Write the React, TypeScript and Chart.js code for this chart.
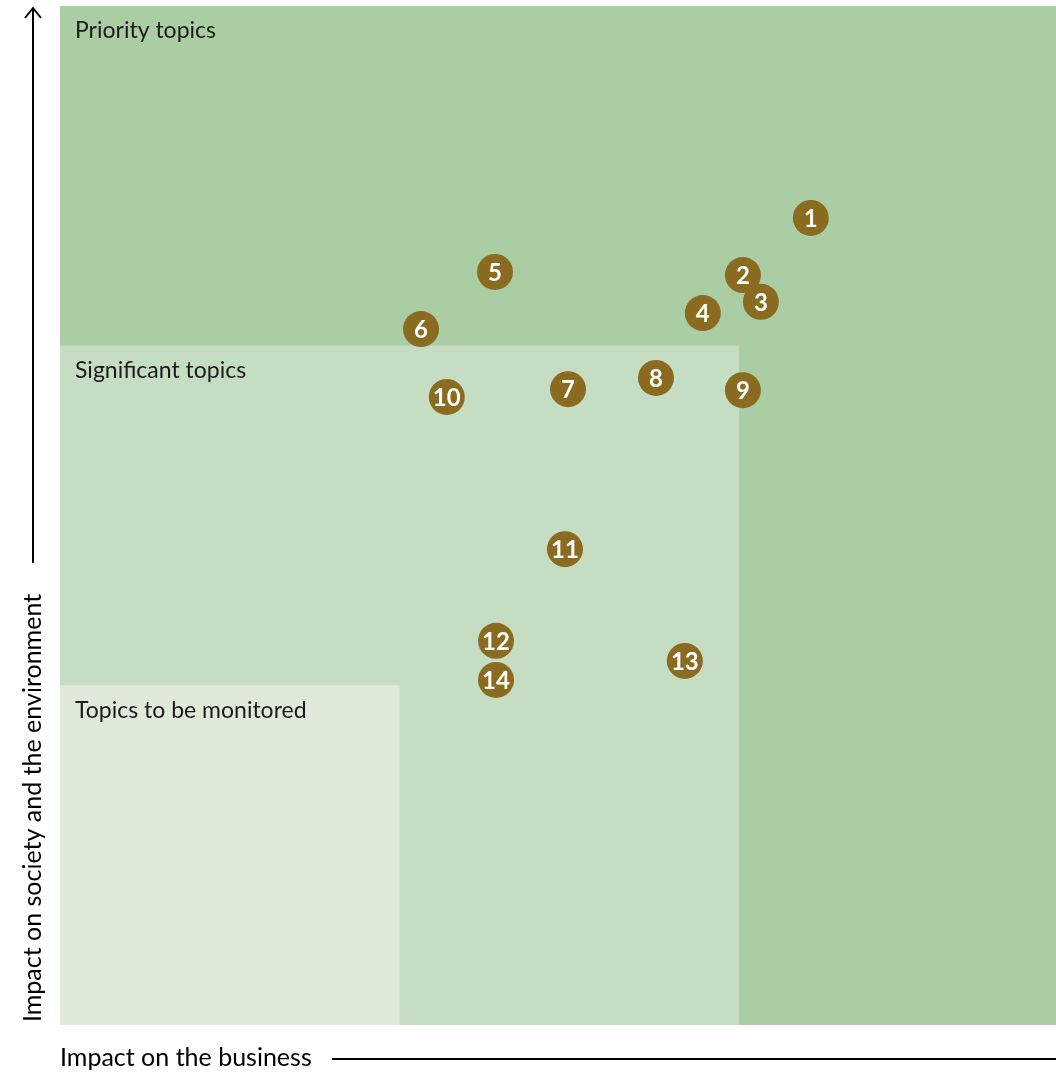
import React, { useEffect, useRef } from "react";
import { Chart, registerables } from "chart.js";

Chart.register(...registerables);

// Topic numbers and positions (units: thirds of the matrix)
const topicIds = ["1", "2", "3", "4", "5", "6", "7", "8", "9", "10", "11", "12", "13", "14"];
const businessImpact = [2.211, 2.011, 2.064, 1.893, 1.281, 1.063, 1.496, 1.755, 2.011, 1.139, 1.487, 1.284, 1.84, 1.284];
const societyImpact = [2.376, 2.208, 2.129, 2.096, 2.217, 2.049, 1.872, 1.905, 1.869, 1.849, 1.401, 1.131, 1.072, 1.016];

// Zones: [xMax, yMax, label]
const zoneLabels = ["Priority topics", "Significant topics", "Topics to be monitored"];
const zoneLimits = [3, 2, 1];
const zoneColors = ["#abcda4", "#c5ddc2", "#e0eadb"];

const xAxisTitle = "Impact on the business";
const yAxisTitle = "Impact on society and the environment";

const FONT = "Lato, 'Open Sans', sans-serif";

export default function App() {
  const ref = useRef<HTMLCanvasElement | null>(null);

  useEffect(() => {
    document.body.style.margin = "0";
    document.body.style.overflow = "hidden";
    const canvas = ref.current!;
    const zonesPlugin = {
      id: "zones",
      beforeDatasetsDraw(chart: any) {
        const { ctx, chartArea, scales } = chart;
        const xs = scales.x;
        const ys = scales.y;
        ctx.save();
        ctx.beginPath();
        ctx.rect(chartArea.left, chartArea.top, chartArea.right - chartArea.left, chartArea.bottom - chartArea.top);
        ctx.clip();
        zoneLimits.forEach((lim, i) => {
          const x0 = xs.getPixelForValue(0);
          const x1 = xs.getPixelForValue(lim);
          const y0 = ys.getPixelForValue(lim);
          const y1 = ys.getPixelForValue(0);
          ctx.fillStyle = zoneColors[i];
          ctx.fillRect(x0, y0, x1 - x0, y1 - y0);
        });
        ctx.fillStyle = "#1a1a1a";
        ctx.font = `23px ${FONT}`;
        ctx.textBaseline = "middle";
        ctx.textAlign = "left";
        zoneLimits.forEach((lim, i) => {
          const x = xs.getPixelForValue(0) + 15;
          const y = ys.getPixelForValue(lim) + 25;
          ctx.fillText(zoneLabels[i], x, y);
        });
        ctx.restore();
      },
      afterDatasetsDraw(chart: any) {
        const { ctx } = chart;
        const meta = chart.getDatasetMeta(0);
        ctx.save();
        ctx.fillStyle = "#ffffff";
        ctx.font = `bold 24px ${FONT}`;
        ctx.textAlign = "center";
        ctx.textBaseline = "middle";
        meta.data.forEach((pt: any, i: number) => {
          ctx.fillText(topicIds[i], pt.x, pt.y + 1);
        });
        ctx.restore();
      },
      afterDraw(chart: any) {
        const { ctx, chartArea } = chart;
        ctx.save();
        ctx.strokeStyle = "#000";
        ctx.fillStyle = "#000";
        ctx.lineWidth = 2;
        // vertical arrow
        const ax = 33;
        ctx.beginPath();
        ctx.moveTo(ax, 563);
        ctx.lineTo(ax, 8);
        ctx.stroke();
        ctx.beginPath();
        ctx.moveTo(ax - 8, 18);
        ctx.lineTo(ax, 8);
        ctx.lineTo(ax + 8, 18);
        ctx.stroke();
        // y title
        ctx.font = `25px ${FONT}`;
        ctx.textAlign = "center";
        ctx.textBaseline = "middle";
        ctx.translate(ax, 808);
        ctx.rotate(-Math.PI / 2);
        ctx.fillText(yAxisTitle, 0, 0);
        ctx.setTransform(1, 0, 0, 1, 0, 0);
        // x title and line
        ctx.textAlign = "left";
        ctx.fillText(xAxisTitle, chartArea.left, 1058);
        ctx.beginPath();
        ctx.moveTo(332, 1059);
        ctx.lineTo(1056, 1059);
        ctx.stroke();
        ctx.restore();
      },
    };

    const chart = new Chart(canvas, {
      type: "scatter",
      data: {
        datasets: [
          {
            data: businessImpact.map((x, i) => ({ x, y: societyImpact[i] })),
            backgroundColor: "#8b6b20",
            borderWidth: 0,
            pointRadius: 18,
            pointHoverRadius: 18,
          },
        ],
      },
      options: {
        responsive: false,
        animation: false,
        devicePixelRatio: 1,
        layout: { autoPadding: false, padding: { left: 60, top: 6, right: 0, bottom: 48 } },
        plugins: { legend: { display: false }, tooltip: { enabled: false } },
        scales: {
          x: { type: "linear", min: 0, max: 2.933, display: false },
          y: { type: "linear", min: 0, max: 3, display: false },
        },
      },
      plugins: [zonesPlugin],
    });
    return () => chart.destroy();
  }, []);

  return (
    <div style={{ width: 1056, height: 1073 }}>
      <canvas ref={ref} width={1056} height={1073} style={{ display: "block" }} />
    </div>
  );
}
